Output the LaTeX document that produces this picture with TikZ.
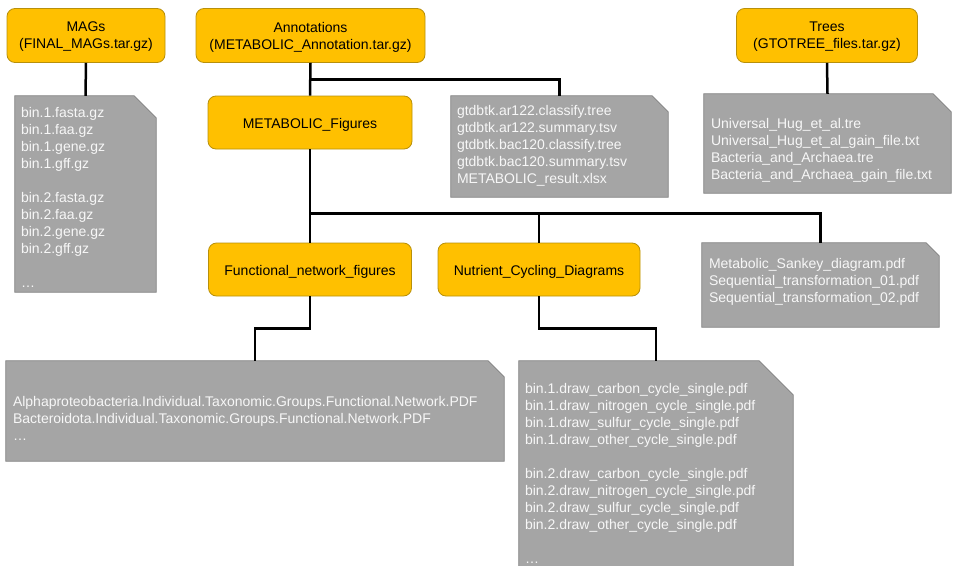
\documentclass[tikz,border=0pt]{standalone}
\usepackage{fontspec}
\setmainfont{Liberation Sans}
\usetikzlibrary{positioning,calc}

\begin{document}
\begin{tikzpicture}[x=1pt, y=-1pt,
    archive/.style={draw=archiveBorder, fill=archiveFill, rounded corners=8pt, line width=0.8pt,
        align=center, inner sep=0pt, text depth=0pt, font=\fontsize{14}{17}\selectfont},
    folder/.style={archive, text height=12.5pt},
    filebox/.style={rectangle, inner sep=0pt},
    fileshape/.style={draw=fileBorder, fill=fileFill, line width=0.8pt},
    filetext/.style={align=left, inner sep=0pt, text=fileText, font=\fontsize{14}{17}\selectfont},
    link/.style={line width=2.5pt}]
    % Define colours
    \definecolor{archiveFill}{HTML}{FFC000}
    \definecolor{archiveBorder}{HTML}{B8900A}
    \definecolor{fileFill}{HTML}{A5A5A5}
    \definecolor{fileBorder}{HTML}{808080}
    \definecolor{fileText}{HTML}{F7F7F7}

    % Define blank line gap
    \def\gap{\\[17pt]}

    % Fix the frame
    \useasboundingbox (0,0) rectangle (955,565);

    % Archives and folders
    \node[archive, minimum width=158pt, minimum height=54pt] (mags) at (86,35.5) {MAGs\\(FINAL\_MAGs.tar.gz)};
    \node[archive, minimum width=229pt, minimum height=54pt] (annot) at (310.5,35.5) {Annotations\\(METABOLIC\_Annotation.tar.gz)};
    \node[archive, minimum width=181pt, minimum height=54pt] (trees) at (827,35.5) {Trees\\(GTOTREE\_files.tar.gz)};
    \node[folder, minimum width=204pt, minimum height=53pt] (figs) at (310,122.5) {METABOLIC\_Figures};
    \node[folder, minimum width=203pt, minimum height=53pt] (funcnet) at (310,269.5) {Functional\_network\_figures};
    \node[folder, minimum width=202pt, minimum height=53pt] (nutrient) at (539,269.5) {Nutrient\_Cycling\_Diagrams};

    % File lists (frames)
    \node[filebox, minimum width=141pt, minimum height=196pt] (magbox) at (85.5,194) {};
    \node[filebox, minimum width=217pt, minimum height=101pt] (gtdbbox) at (559.5,146.5) {};
    \node[filebox, minimum width=247pt, minimum height=99pt] (treebox) at (827.5,143.5) {};
    \node[filebox, minimum width=237pt, minimum height=84pt] (sankeybox) at (820.5,285) {};
    \node[filebox, minimum width=498pt, minimum height=100pt] (netbox) at (255,411) {};
    \node[filebox, minimum width=274pt, minimum height=214pt] (cyclebox) at (656,468) {};

    % File lists (dog-eared sheets)
    \foreach \sheet/\cut in {magbox/22, gtdbbox/16, treebox/18, sankeybox/13, netbox/16, cyclebox/34}
        \filldraw[fileshape] (\sheet.south west) -- (\sheet.north west) -- ([xshift=-\cut pt]\sheet.north east)
            -- ([yshift=-\cut pt]\sheet.north east) -- (\sheet.south east) -- cycle;

    % File lists (text)
    \node[filetext, below right=11pt and 6pt of magbox.north west] (magtext)
        {bin.1.fasta.gz\\bin.1.faa.gz\\bin.1.gene.gz\\bin.1.gff.gz\gap
         bin.2.fasta.gz\\bin.2.faa.gz\\bin.2.gene.gz\\bin.2.gff.gz\gap \ldots};
    \node[filetext, below right=9pt and 6pt of gtdbbox.north west] (gtdbtext)
        {gtdbtk.ar122.classify.tree\\gtdbtk.ar122.summary.tsv\\gtdbtk.bac120.classify.tree\\
         gtdbtk.bac120.summary.tsv\\METABOLIC\_result.xlsx};
    \node[filetext, below right=24pt and 7pt of treebox.north west] (treetext)
        {Universal\_Hug\_et\_al.tre\\Universal\_Hug\_et\_al\_gain\_file.txt\\
         Bacteria\_and\_Archaea.tre\\Bacteria\_and\_Archaea\_gain\_file.txt};
    \node[filetext, below right=15pt and 7pt of sankeybox.north west] (sankeytext)
        {Metabolic\_Sankey\_diagram.pdf\\Sequential\_transformation\_01.pdf\\Sequential\_transformation\_02.pdf};
    \node[filetext, below right=35pt and 7pt of netbox.north west] (nettext)
        {Alphaproteobacteria.Individual.Taxonomic.Groups.Functional.Network.PDF\\
         Bacteroidota.Individual.Taxonomic.Groups.Functional.Network.PDF\\\ldots};
    \node[filetext, below right=22pt and 6pt of cyclebox.north west] (cycletext)
        {bin.1.draw\_carbon\_cycle\_single.pdf\\bin.1.draw\_nitrogen\_cycle\_single.pdf\\
         bin.1.draw\_sulfur\_cycle\_single.pdf\\bin.1.draw\_other\_cycle\_single.pdf\gap
         bin.2.draw\_carbon\_cycle\_single.pdf\\bin.2.draw\_nitrogen\_cycle\_single.pdf\\
         bin.2.draw\_sulfur\_cycle\_single.pdf\\bin.2.draw\_other\_cycle\_single.pdf\gap \ldots};

    % Draw links
    \draw[link] (mags.south) -- (magbox.north);
    \draw[link] (trees.south) -- (treebox.north);
    \coordinate (annotjoin) at ($(annot.south)!0.5!(figs.north)$);
    \draw[link] (annot.south) -- (figs.north);
    \draw[link] (annotjoin) -| (gtdbbox.north);
    \coordinate (figjoin) at ([yshift=-64pt]figs.south);
    \draw[link] (figs.south) -- (funcnet.north);
    \draw[link] (figjoin) -| (sankeybox.north);
    \draw[link] (nutrient.north) -- (nutrient.north |- figjoin);
    \draw[link] (funcnet.south) |- ($(funcnet.south)!0.5!(netbox.north)$) -| (netbox.north);
    \draw[link] (nutrient.south) |- ($(nutrient.south)!0.5!(cyclebox.north)$) -| (cyclebox.north);

\end{tikzpicture}
\end{document}
